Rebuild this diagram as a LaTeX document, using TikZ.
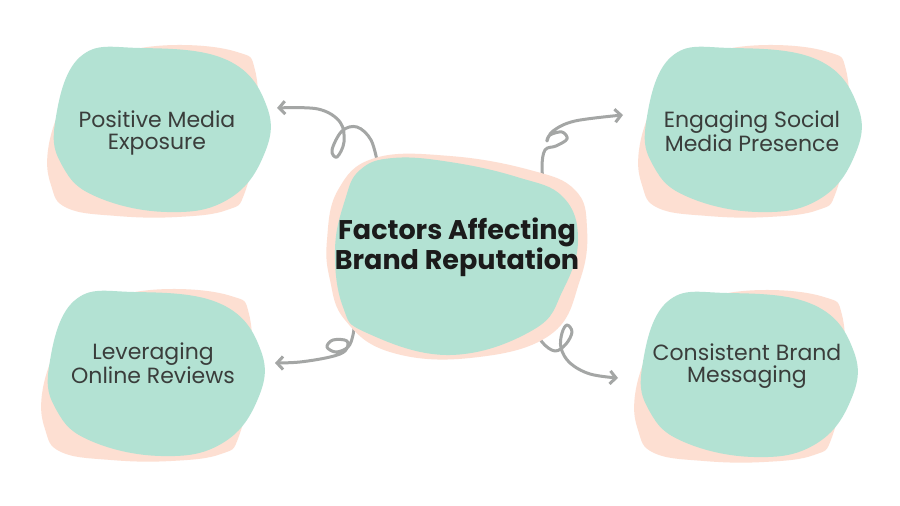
\documentclass[tikz,border=0pt]{standalone}
\usepackage{fontspec}
\setmainfont{Poppins}
\usetikzlibrary{arrows.meta}
\definecolor{mint}{HTML}{B3E2D3}
\definecolor{peach}{HTML}{FDDFD2}
\definecolor{conn}{HTML}{A4A6A5}
\definecolor{txt}{HTML}{3A3D3B}
\definecolor{ctxt}{HTML}{1B1B1B}
\begin{document}
\begin{tikzpicture}[x=1pt,y=-1pt,
  outertext/.style={font=\fontsize{22}{22.5}\selectfont, text=txt, align=center, inner sep=0pt},
  centertext/.style={font=\fontsize{27}{28.5}\selectfont\bfseries, text=ctxt, align=center, inner sep=0pt},
  curl/.style={draw=conn, line width=3pt, line cap=round, line join=round, -{Straight Barb[length=6pt,width=13pt]}},
  outerblob/.pic={
    \fill[peach] plot[smooth cycle, tension=0.7] coordinates {(-96,-25) (-109,20) (-106,55) (-90,78) (-40,86) (20,87) (70,80) (88,62) (100,0) (98,-60) (80,-78) (20,-85) (-40,-77) (-80,-60)};
    \fill[mint] plot[smooth cycle, tension=0.7] coordinates {(-102,-7) (-77,-73) (-17,-82) (70,-70) (110,-23) (106,27) (70,70) (10,82) (-60,67) (-94,37)};
  }]
\fill[white] (0,0) rectangle (900,506);
\useasboundingbox (0,0) rectangle (900,506);

% outer blobs
\pic (b1) at (157,130) {outerblob};
\pic (b2) at (748,130) {outerblob};
\pic (b3) at (151,374) {outerblob};
\pic (b4) at (744,375) {outerblob};

% connector end points
\coordinate (s1) at (378,165);
\coordinate (e1) at (277,108);
\coordinate (s2) at (545,195);
\coordinate (e2) at (623,115);
\coordinate (s3) at (355,318);
\coordinate (e3) at (275,363);
\coordinate (s4) at (533,324);
\coordinate (e4) at (618,378);

% connectors
\draw[curl] plot[smooth, tension=0.6] coordinates {(s1) (371,140) (357,127) (342,131) (332,150) (337,157) (344,142) (340,122) (318,109) (e1)};
\draw[curl] plot[smooth, tension=0.6] coordinates {(s2) (542,168) (545,150) (556,146) (567,139) (562,132) (550,135) (547,141) (553,131) (575,121) (e2)};
\draw[curl] plot[smooth, tension=0.6] coordinates {(s3) (353,335) (348,347) (336,352) (327,347) (333,340) (347,341) (345,351) (330,357) (300,362) (e3)};
\draw[curl] plot[smooth, tension=0.6] coordinates {(s4) (542,342) (555,351) (566,344) (572,332) (567,325) (562,333) (561,348) (570,363) (590,374) (e4)};

% center blob
\fill[peach] plot[smooth cycle, tension=0.7] coordinates {(327,240) (338,190) (375,158) (450,156) (530,170) (575,190) (587,228) (580,280) (550,335) (470,358) (390,352) (345,320) (330,280)};
\fill[mint] plot[smooth cycle, tension=0.7] coordinates {(360,170) (393,158) (450,162) (517,177) (563,197) (578,240) (563,290) (533,330) (450,355) (367,333) (343,307) (335,250) (345,200)};

% texts
\node[centertext] (c) at (457,247) {Factors Affecting\\Brand Reputation};
\node[outertext] (n1) at (157,133) {Positive Media\\Exposure};
\node[outertext] (n2) at (752,131) {Engaging Social\\Media Presence};
\node[outertext] (n3) at (153,363) {Leveraging\\Online Reviews};
\node[outertext] (n4) at (747,366) {Consistent Brand\\Messaging};
\end{tikzpicture}
\end{document}
